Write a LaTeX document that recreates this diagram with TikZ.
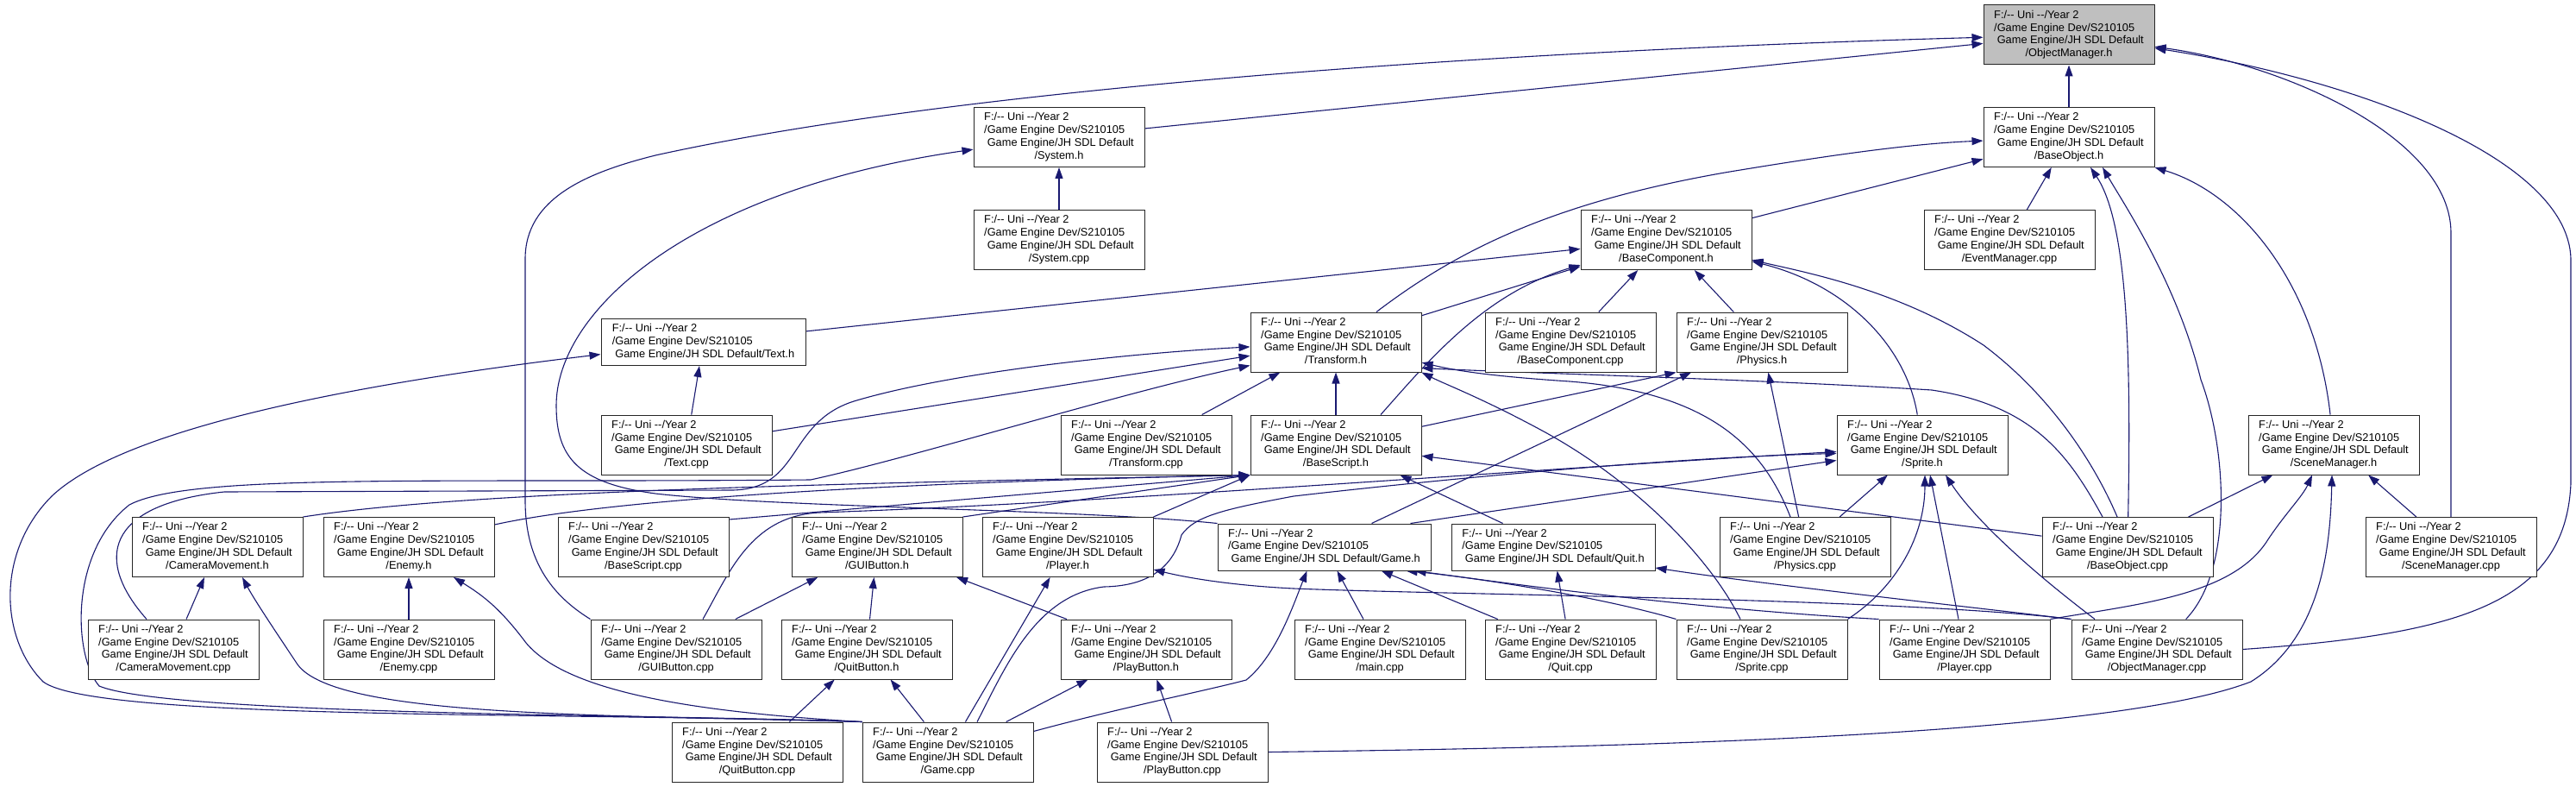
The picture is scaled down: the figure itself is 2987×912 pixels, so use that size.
\documentclass[tikz,border=0pt]{standalone}
\usepackage{fontspec}
\newfontfamily\nodefontfam{Liberation Sans}
\usetikzlibrary{arrows.meta}
\pgfdeclarelayer{bg}
\pgfsetlayers{bg,main}
\definecolor{edgeblue}{HTML}{191970}
\newcommand\dd{-\kern0pt-}
\newcommand\nfont{\nodefontfam\fontsize{12.8pt}{14.8pt}\selectfont}
\newcommand\fl[1]{\begin{tabular}{@{}l@{}}F:/\dd{} Uni \dd/Year 2\\/Game Engine Dev/S210105\\\ Game Engine/JH SDL Default\\\multicolumn{1}{@{}c@{}}{#1}\end{tabular}}
\newcommand\fs[1]{\begin{tabular}{@{}l@{}}F:/\dd{} Uni \dd/Year 2\\/Game Engine Dev/S210105\\\ Game Engine/JH SDL Default#1\end{tabular}}
\tikzset{
  nb/.style={draw=black!85, line width=1pt, fill=white, inner sep=0pt, font=\nfont,
    minimum width=198pt, minimum height=69pt},
  nbs/.style={nb, minimum height=54pt},
  root/.style={fill=black!25},
  edge/.style={draw=edgeblue, line width=1.1pt, -{Triangle[length=13pt,width=9pt]}},
}
\begin{document}
\begin{tikzpicture}[x=1pt,y=-1pt]
\useasboundingbox (0,0) rectangle (2987,912);
\begin{pgfonlayer}{bg}
\fill[white] (0,0) rectangle (2987,912);
\end{pgfonlayer}
% nodes
\node[nb,root] (omh) at (2399,40.5) {\fl{/ObjectManager.h}};
\node[nb] (systemh) at (1228,159) {\fl{/System.h}};
\node[nb] (baseobjh) at (2399,159) {\fl{/BaseObject.h}};
\node[nb] (systemcpp) at (1228,278) {\fl{/System.cpp}};
\node[nb] (basecomph) at (1932,278) {\fl{/BaseComponent.h}};
\node[nb] (eventcpp) at (2330,278) {\fl{/EventManager.cpp}};
\node[nbs, minimum width=237pt] (texth) at (815.5,396.5) {\fs{/Text.h}};
\node[nb] (transformh) at (1549,396.5) {\fl{/Transform.h}};
\node[nb] (basecompcpp) at (1821,396.5) {\fl{/BaseComponent.cpp}};
\node[nb] (physicsh) at (2043,396.5) {\fl{/Physics.h}};
\node[nb] (textcpp) at (796,515.5) {\fl{/Text.cpp}};
\node[nb] (transformcpp) at (1329,515.5) {\fl{/Transform.cpp}};
\node[nb] (bscripth) at (1549,515.5) {\fl{/BaseScript.h}};
\node[nb] (spriteh) at (2229,515.5) {\fl{/Sprite.h}};
\node[nb] (scenemgrh) at (2706,515.5) {\fl{/SceneManager.h}};
\node[nb] (camh) at (252,634) {\fl{/CameraMovement.h}};
\node[nb] (enemyh) at (474,634) {\fl{/Enemy.h}};
\node[nb] (bscriptcpp) at (746,634) {\fl{/BaseScript.cpp}};
\node[nb] (guibtnh) at (1017,634) {\fl{/GUIButton.h}};
\node[nb] (playerh) at (1238,634) {\fl{/Player.h}};
\node[nbs, minimum width=247pt] (gameh) at (1535.5,634) {\fs{/Game.h}};
\node[nbs, minimum width=236pt] (quith) at (1801,634) {\fs{/Quit.h}};
\node[nb] (physicscpp) at (2093,634) {\fl{/Physics.cpp}};
\node[nb] (baseobjcpp) at (2467,634) {\fl{/BaseObject.cpp}};
\node[nb] (scenemgrcpp) at (2842,634) {\fl{/SceneManager.cpp}};
\node[nb] (camcpp) at (201,752.5) {\fl{/CameraMovement.cpp}};
\node[nb] (enemycpp) at (474,752.5) {\fl{/Enemy.cpp}};
\node[nb] (guibtncpp) at (784,752.5) {\fl{/GUIButton.cpp}};
\node[nb] (quitbtnh) at (1005,752.5) {\fl{/QuitButton.h}};
\node[nb] (playbtnh) at (1329,752.5) {\fl{/PlayButton.h}};
\node[nb] (maincpp) at (1600,752.5) {\fl{/main.cpp}};
\node[nb] (quitcpp) at (1821,752.5) {\fl{/Quit.cpp}};
\node[nb] (spritecpp) at (2043,752.5) {\fl{/Sprite.cpp}};
\node[nb] (playercpp) at (2278,752.5) {\fl{/Player.cpp}};
\node[nb] (omcpp) at (2501,752.5) {\fl{/ObjectManager.cpp}};
\node[nb] (quitbtncpp) at (878,871.5) {\fl{/QuitButton.cpp}};
\node[nb] (gamecpp) at (1099,871.5) {\fl{/Game.cpp}};
\node[nb] (playbtncpp) at (1371,871.5) {\fl{/PlayButton.cpp}};
% edges
\begin{pgfonlayer}{bg}
\draw[edge] (baseobjh) -- (omh);
\draw[edge] (systemh) -- (omh);
\draw[edge] (guibtncpp.north west) .. controls (640,690) and (609,650) .. (609,580) -- (609,300) .. controls (609,230) and (680,200) .. (760,180) .. controls (1100,105) and (1700,60) .. (omh);
\draw[edge] (scenemgrcpp.north) -- (2842,270) .. controls (2842,160) and (2650,75) .. (omh);
\draw[edge] (omcpp.east) .. controls (2850,735) and (2975,700) .. (2981,560) -- (2981,300) .. controls (2978,180) and (2720,90) .. (omh);
\draw[edge] (systemcpp) -- (systemh);
\draw[edge] (gameh.north west) .. controls (1250,590) and (900,588) .. (760,572) .. controls (670,560) and (645,530) .. (645,470) .. controls (645,360) and (800,220) .. (systemh);
\draw[edge] (eventcpp) -- (baseobjh);
\draw[edge] (baseobjcpp) .. controls (2471,420) and (2468,260) .. ([xshift=25pt]baseobjh.south);
\draw[edge] (omcpp) .. controls (2590,660) and (2582,520) .. (2552,440) .. controls (2525,330) and (2465,240) .. ([xshift=39pt]baseobjh.south);
\draw[edge] (scenemgrh) .. controls (2685,330) and (2600,225) .. (baseobjh.south east);
\draw[edge] ([xshift=47pt]transformh.north) .. controls (1690,290) and (1800,235) .. (2000,200) .. controls (2150,175) and (2230,166) .. (baseobjh);
\draw[edge] (basecomph) -- (baseobjh);
\draw[edge] (basecompcpp) -- (basecomph);
\draw[edge] (physicsh) -- (basecomph);
\draw[edge] (texth) -- (basecomph);
\draw[edge] (transformh) -- (basecomph);
\draw[edge] ([xshift=52pt]bscripth.north) .. controls (1655,420) and (1720,340) .. (basecomph);
\draw[edge] (spriteh) .. controls (2210,400) and (2140,330) .. (basecomph);
\draw[edge] ([xshift=-12pt]baseobjcpp.north) .. controls (2430,540) and (2380,460) .. (2300,400) .. controls (2200,335) and (2090,315) .. (basecomph);
\draw[edge] (transformcpp) -- (transformh);
\draw[edge] (bscripth) -- (transformh);
\draw[edge] (textcpp) -- (transformh);
\draw[edge] ([xshift=-31pt]camcpp.north) .. controls (110,650) and (120,585) .. (260,570) -- (850,568) .. controls (930,566) and (912,490) .. (990,465) .. controls (1100,432) and (1300,410) .. (transformh);
\draw[edge] (gamecpp.north west) .. controls (800,828) and (200,830) .. (115,795) .. controls (85,760) and (80,640) .. (150,585) .. controls (220,548) and (500,560) .. (940,556) .. controls (1060,530) and (1300,455) .. ([yshift=-27pt]transformh.west);
\draw[edge] ([xshift=-17pt]physicscpp.north) .. controls (2045,520) and (1985,455) .. (1820,442) .. controls (1730,436) and (1690,430) .. (transformh);
\draw[edge] ([xshift=-25pt]spritecpp.north) .. controls (1985,650) and (1900,560) .. (1790,500) .. controls (1720,462) and (1675,445) .. (transformh.south east);
\draw[edge] ([xshift=-29pt]baseobjcpp.north) .. controls (2400,530) and (2360,470) .. (2240,452) .. controls (2050,440) and (1760,432) .. ([yshift=-30pt]transformh.east);
\draw[edge] (gamecpp.north west) .. controls (650,825) and (110,835) .. (50,790) .. controls (0,740) and (-5,640) .. (60,575) .. controls (150,490) and (450,440) .. (texth);
\draw[edge] (textcpp) -- (texth);
\draw[edge] ([yshift=-3pt]bscriptcpp.north east) -- (bscripth.south west);
\draw[edge] (camh.north east) .. controls (550,568) and (1000,560) .. (bscripth.south west);
\draw[edge] ([yshift=-9pt]enemyh.north east) .. controls (700,580) and (1000,560) .. (bscripth.south west);
\draw[edge] (guibtnh.north east) -- (bscripth.south west);
\draw[edge] (playerh.north east) -- (bscripth.south west);
\draw[edge] (quith) -- (bscripth);
\draw[edge] (baseobjcpp) -- (bscripth);
\draw[edge] (bscripth) -- (physicsh.south west);
\draw[edge] ([xshift=55pt]gameh.north) -- ([xshift=-82pt]physicsh.south);
\draw[edge] (physicscpp) -- (physicsh);
\draw[edge] (physicscpp) -- (spriteh);
\draw[edge] ([xshift=100pt]gameh.north) -- ([yshift=-18pt]spriteh.west);
\draw[edge] ([xshift=31pt]guibtncpp.north) .. controls (845,665) and (870,598) .. (950,594) .. controls (1300,582) and (1750,545) .. ([yshift=-8pt]spriteh.west);
\draw[edge] ([xshift=34pt]gamecpp.north) .. controls (1165,775) and (1200,690) .. (1280,680) .. controls (1340,679) and (1362,650) .. (1370,620) .. controls (1385,598) and (1420,590) .. (1500,575) .. controls (1700,552) and (1950,530) .. ([yshift=-10pt]spriteh.west);
\draw[edge] (spritecpp.north east) .. controls (2200,680) and (2232,620) .. ([xshift=3pt]spriteh.south);
\draw[edge] ([xshift=-7pt]playercpp.north) -- ([xshift=9pt]spriteh.south);
\draw[edge] ([xshift=-72pt]omcpp.north) .. controls (2340,650) and (2285,595) .. ([xshift=27pt]spriteh.south);
\draw[edge] (spritecpp.north west) .. controls (1850,690) and (1700,668) .. ([xshift=95pt]gameh.south);
\draw[edge] (playercpp.north west) .. controls (1950,705) and (1720,672) .. ([xshift=105pt]gameh.south);
\draw[edge] ([yshift=24pt]gamecpp.east) .. controls (1300,820) and (1400,800) .. (1445,788) .. controls (1480,760) and (1500,700) .. ([xshift=-20pt]gameh.south);
\draw[edge] (maincpp) -- (gameh);
\draw[edge] (quitcpp) -- (gameh);
\draw[edge] (quitcpp) -- (quith);
\draw[edge] (omcpp.north west) .. controls (2300,705) and (2050,678) .. ([yshift=-24pt]quith.east);
\draw[edge] (omcpp.north west) .. controls (2200,693) and (1700,690) .. (1500,682) .. controls (1420,678) and (1370,668) .. ([yshift=-26pt]playerh.east);
\draw[edge] (playercpp.north east) .. controls (2480,700) and (2590,690) .. (2630,625) .. controls (2650,595) and (2670,575) .. ([xshift=-25pt]scenemgrh.south);
\draw[edge] (baseobjcpp) -- (scenemgrh);
\draw[edge] (scenemgrcpp) -- (scenemgrh);
\draw[edge] (playbtncpp.east) .. controls (1900,866) and (2450,852) .. (2610,790) .. controls (2690,740) and (2702,640) .. ([xshift=-2pt]scenemgrh.south);
\draw[edge] (playbtncpp) -- (playbtnh);
\draw[edge] (gamecpp) -- (playbtnh);
\draw[edge] (gamecpp) -- (quitbtnh);
\draw[edge] (quitbtncpp) -- (quitbtnh);
\draw[edge] (gamecpp) -- (playerh);
\draw[edge] (guibtncpp) -- (guibtnh);
\draw[edge] (quitbtnh) -- (guibtnh);
\draw[edge] (playbtnh) -- (guibtnh);
\draw[edge] (enemycpp) -- (enemyh);
\draw[edge] (gamecpp.north west) .. controls (820,826) and (660,805) .. (610,745) .. controls (580,705) and (560,690) .. ([xshift=52pt]enemyh.south);
\draw[edge] (camcpp) -- (camh);
\draw[edge] (gamecpp.north west) .. controls (700,828) and (390,832) .. (345,770) .. controls (315,725) and (295,695) .. ([xshift=29pt]camh.south);
\end{pgfonlayer}
\end{tikzpicture}
\end{document}
